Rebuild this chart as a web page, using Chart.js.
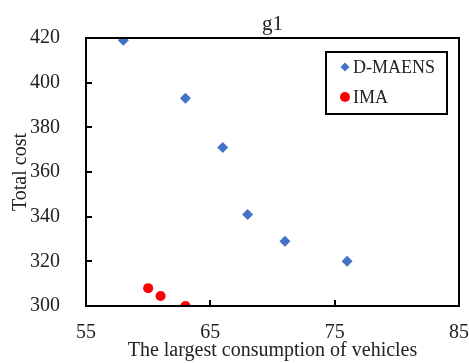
<!DOCTYPE html>
<html>
<head>
<meta charset="utf-8">
<script src="https://cdn.jsdelivr.net/npm/chart.js@4/dist/chart.umd.min.js"></script>
<style>
  html, body { margin: 0; padding: 0; background: #fff; }
  #wrap { width: 469px; height: 363px; }
</style>
</head>
<body>
<div id="wrap"><canvas id="chart"></canvas></div>
<script>
// data
const dmaensX = [58, 63, 66, 68, 71, 76];
const dmaensY = [419, 393, 371, 341, 329, 320];
const imaX = [60, 61, 63];
const imaY = [308, 304.5, 300];
const xTicks = [55, 65, 75, 85];
const yTicks = [300, 320, 340, 360, 380, 400, 420];

const FONT = '"Liberation Serif", "Times New Roman", serif';

function toPoints(xs, ys) {
  return xs.map((x, i) => ({ x: x, y: ys[i] }));
}

// frame, inward ticks and boxed legend
const framePlugin = {
  id: 'frame',
  afterLayout(chart) {
    // center the title over the plot area, not the whole canvas
    if (chart.titleBlock) {
      chart.titleBlock.left = chart.chartArea.left;
      chart.titleBlock.right = chart.chartArea.right;
    }
  },
  afterDraw(chart) {
    let ctx = chart.ctx;
    let a = chart.chartArea;
    let xs = chart.scales.x;
    let ys = chart.scales.y;
    ctx.save();
    ctx.strokeStyle = '#000';
    ctx.lineWidth = 2;
    ctx.strokeRect(a.left, a.top, a.right - a.left, a.bottom - a.top);

    ctx.beginPath();
    for (let v of yTicks) {
      let py = Math.round(ys.getPixelForValue(v));
      ctx.moveTo(a.left, py);
      ctx.lineTo(a.left + 6, py);
    }
    for (let v of xTicks) {
      let px = Math.round(xs.getPixelForValue(v));
      ctx.moveTo(px, a.bottom);
      ctx.lineTo(px, a.bottom - 6);
    }
    ctx.stroke();

    // legend
    let lx = 326, ly = 52, lw = 121, lh = 62;
    ctx.fillStyle = '#fff';
    ctx.fillRect(lx, ly, lw, lh);
    ctx.lineWidth = 2;
    ctx.strokeRect(lx, ly, lw, lh);
    ctx.font = '18px ' + FONT;
    ctx.textBaseline = 'middle';
    chart.data.datasets.forEach((ds, i) => {
      let cy = ly + 15 + i * 30;
      let cx = lx + 19;
      ctx.fillStyle = ds.backgroundColor;
      ctx.beginPath();
      if (ds.pointStyle === 'rectRot') {
        ctx.moveTo(cx, cy - 4.5);
        ctx.lineTo(cx + 4.5, cy);
        ctx.lineTo(cx, cy + 4.5);
        ctx.lineTo(cx - 4.5, cy);
        ctx.closePath();
      } else {
        ctx.arc(cx, cy, 5, 0, Math.PI * 2);
      }
      ctx.fill();
      ctx.fillStyle = '#222';
      ctx.textAlign = 'left';
      ctx.fillText(ds.label, lx + 27, cy + 1);
    });
    ctx.restore();
  }
};

new Chart(document.getElementById('chart'), {
  type: 'scatter',
  data: {
    datasets: [
      {
        label: 'D-MAENS',
        data: toPoints(dmaensX, dmaensY),
        backgroundColor: '#4472C4',
        borderColor: '#4472C4',
        pointStyle: 'rectRot',
        pointRadius: 5.5,
        borderWidth: 0
      },
      {
        label: 'IMA',
        data: toPoints(imaX, imaY),
        backgroundColor: '#FF0000',
        borderColor: '#FF0000',
        pointStyle: 'circle',
        pointRadius: 5,
        borderWidth: 0
      }
    ]
  },
  options: {
    responsive: true,
    maintainAspectRatio: false,
    animation: false,
    layout: { padding: { left: 0, right: 10, top: 0, bottom: 0 } },
    plugins: {
      legend: { display: false },
      tooltip: { enabled: false },
      title: {
        display: true,
        text: 'g1',
        color: '#222',
        font: { family: FONT, size: 21, weight: 'normal' },
        padding: { top: 12, bottom: 0.8 }
      }
    },
    scales: {
      x: {
        type: 'linear',
        min: 55,
        max: 85,
        afterBuildTicks: (s) => { s.ticks = xTicks.map(v => ({ value: v })); },
        afterFit: (s) => { s.height = 57; s.paddingLeft = 0; s.paddingRight = 0; },
        grid: { display: false },
        border: { display: false },
        ticks: {
          color: '#222',
          padding: 7,
          font: { family: FONT, size: 20 }
        },
        title: {
          display: true,
          text: 'The largest consumption of vehicles',
          color: '#222',
          font: { family: FONT, size: 20 },
          padding: { top: 0, bottom: 0 }
        }
      },
      y: {
        type: 'linear',
        min: 300,
        max: 420,
        afterBuildTicks: (s) => { s.ticks = yTicks.map(v => ({ value: v })); },
        afterFit: (s) => { s.width = 86; s.paddingTop = 0; s.paddingBottom = 0; },
        grid: { display: false },
        border: { display: false },
        ticks: {
          color: '#222',
          padding: 18,
          font: { family: FONT, size: 20 }
        },
        title: {
          display: true,
          text: 'Total cost',
          color: '#222',
          font: { family: FONT, size: 20 },
          padding: { top: 9, bottom: 0 }
        }
      }
    }
  },
  plugins: [framePlugin]
});
</script>
</body>
</html>
